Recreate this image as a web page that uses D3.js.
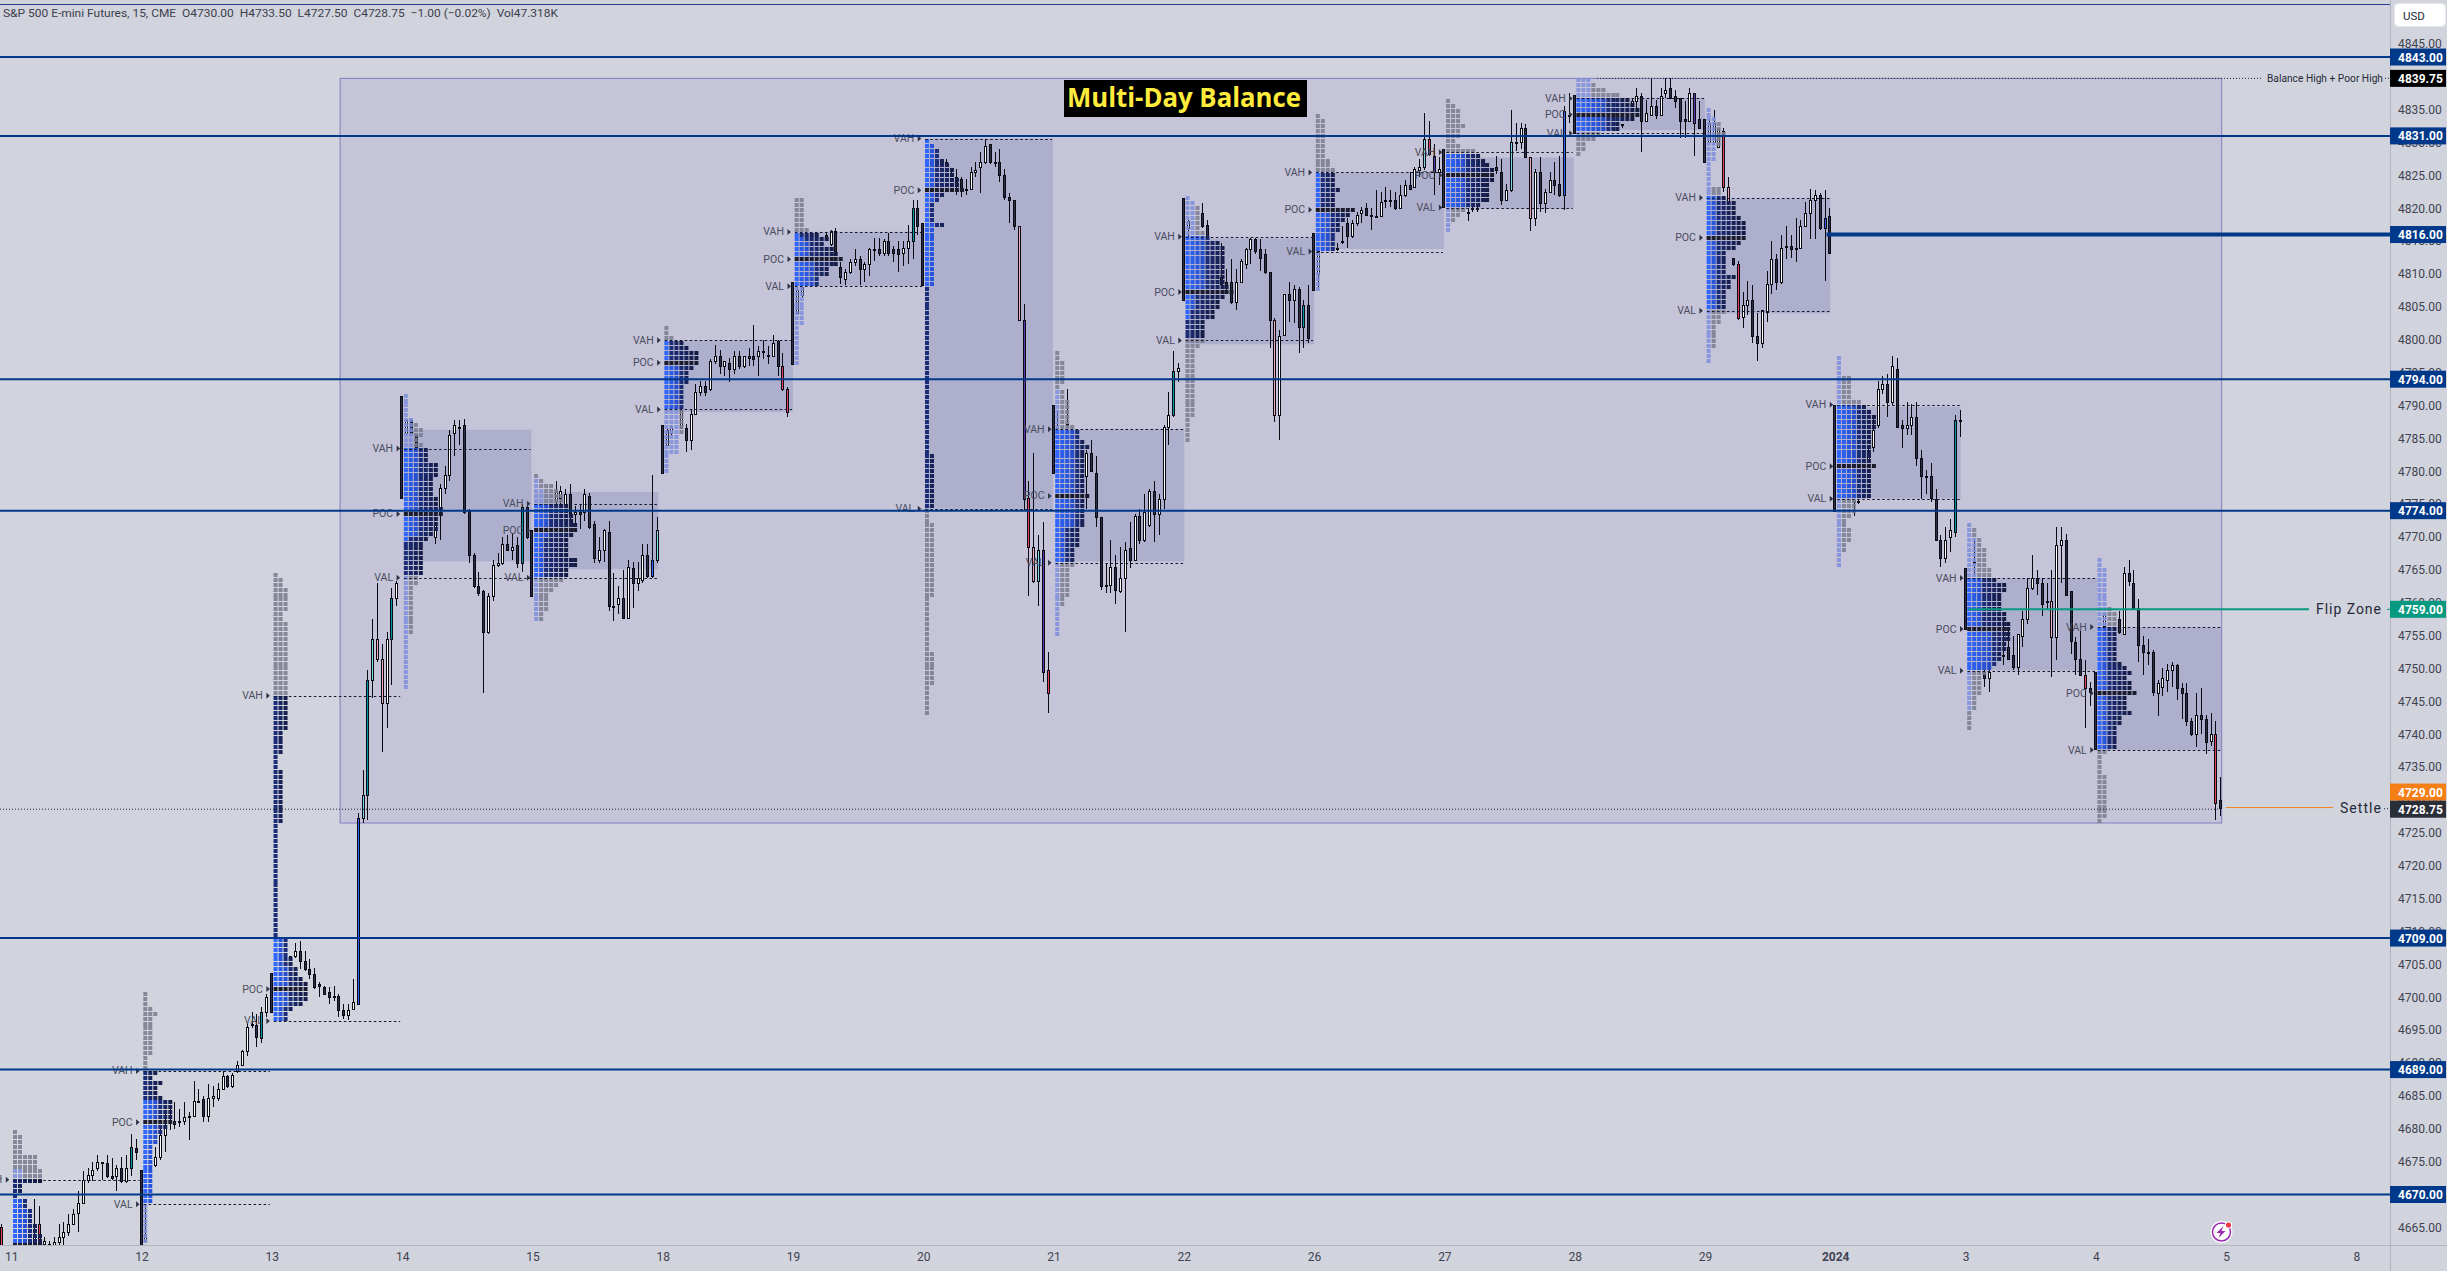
<!DOCTYPE html>
<html><head><meta charset="utf-8">
<style>html,body{margin:0;padding:0;background:#d1d4dc;overflow:hidden}svg{display:block}text{font-family:Roboto,"Liberation Sans",sans-serif}</style>
<script src="https://d3js.org/d3.v7.min.js"></script></head><body>
<svg id="c" width="2447" height="1271"></svg>
<script>
const _ = null;
const dayLabels = ["11","12","13","14","15","18","19","20","21","22","26","27","28","29","2024","3","4","5","8"];
const yTicks = [4665,4670,4675,4680,4685,4690,4695,4700,4705,4710,4715,4720,4725,4730,4735,4740,4745,4750,4755,4760,4765,4770,4775,4780,4785,4790,4795,4800,4805,4810,4815,4820,4825,4830,4835,4840,4845];
const navyLevels = [4843,4831,4794,4774,4709,4689,4670];
const heavyLevel = 4816, flipLevel = 4759, settleLevel = 4729, lastClose = 4728.75, balanceHigh = 4839.75, balanceLow = 4726.5;

// each bar: open, high, low, close
const barsPrev = [[4665,4665.5,4661,4662]];
const bars11 = [_,_,_,_,_,[4663,4669.25,4661,4664],[4665.5,4668.25,4662,4662.5],[4662.5,4663.5,4661,4663],[4662.5,4663,4662,4662],[4662.25,4663.5,4662,4662.75],[4662.75,4665.5,4662,4663.5],[4663.5,4665.75,4662,4664.25],[4664.25,4667,4663.75,4665.5],[4665.5,4667.75,4665.5,4667],[4667.25,4670.5,4664.25,4668.75],[4668.75,4673.5,4668.5,4672.25],[4672.25,4674,4671.75,4673],[4673,4675,4672,4673.75],[4674,4676,4673.5,4675],[4675,4675,4672.25,4674.75],[4674.75,4676,4672.5,4672.75],[4672.75,4675.5,4672.25,4672.5],[4672.75,4674.5,4670.5,4674],[4674,4675.75,4671.75,4672],[4672,4676,4671.75,4674],[4674,4679.25,4672.75,4677.25],[4677,4678.5,4675.25,4676.5]];
const bars12 = [[4673.75,4673.75,4660,4660],[4663,4668.5,4662.75,4664],[4674,4674.5,4674,4674.5],[4674.5,4677.25,4674.25,4675.75],[4675.75,4680.25,4675.25,4679],[4679,4682.25,4676.5,4680.5],[4682,4683.5,4679.75,4681.75],[4681.25,4684,4680,4680.75],[4681,4683,4680.25,4681.25],[4681.25,4684,4680.5,4681.75],[4681.75,4682.5,4678.25,4682],[4682,4687.25,4681.75,4684.25],[4684.25,4686,4684,4684.25],[4684.5,4685,4681,4682],[4682,4686.75,4681,4684.75],[4684.75,4686.5,4683.25,4685],[4684.75,4687,4684.25,4686],[4686,4688.75,4686,4688],[4688,4688.25,4686.25,4686.5],[4686.5,4688.5,4686.25,4688.25],[4688.75,4690.25,4688.5,4689.75],[4689.75,4692,4689.5,4691.75],[4691.75,4696,4691,4695.5],[4695.75,4697.75,4695.25,4696],[4695.75,4697.5,4692.5,4694],[4693.75,4698.5,4693,4697.75],[4697.75,4700.5,4697,4700]];
const bars13 = [[4703.75,4703.75,4697.75,4697.75],_,_,_,[4706.25,4706.25,4706,4706.25],[4706.25,4708.25,4706,4707],[4707,4708.5,4704.25,4705.5],[4705.5,4707,4704,4704.25],[4704.25,4705.75,4702.75,4703.5],[4703.5,4704.5,4701.25,4701.5],[4702,4702.25,4700,4701.75],[4701.5,4701.75,4700.5,4700.5],[4700.75,4701.5,4699,4700],[4700.25,4701.75,4699.5,4700.25],[4700.25,4700.5,4697,4698],[4698,4699,4696.75,4697.25],[4697.25,4699,4696.5,4698],[4698.25,4702.75,4698.25,4699.25],[4699,4728,4698.75,4727.25],[4727.25,4734.5,4726.5,4730.75],[4730.75,4749.75,4727,4748.25],[4748.25,4757.5,4745.5,4754.5],[4754.5,4763,4751,4751.5],[4751.5,4753.75,4737.25,4744.75],[4744.75,4755.5,4741,4754.5],[4754.5,4762.25,4747.5,4760.75],[4760.75,4763.25,4759.5,4763]];
const bars14 = [[4791.5,4791.5,4776,4776],[4785.75,4788,4785.5,4787.75],[4787.75,4788,4785.5,4785.75],[4785.5,4785.5,4783.5,4783.5],_,_,_,[4770,4772,4769,4772],[4774.25,4778,4769.5,4777.5],[4777.5,4780.75,4776.5,4779.5],[4779.5,4786.25,4778.5,4785.5],[4785.75,4787.75,4782.25,4787],[4786.75,4787.75,4784,4786.5],[4787,4788,4773.5,4773.75],[4774,4774.25,4766,4767.25],[4767.25,4767.5,4762.25,4762.5],[4762.5,4764.75,4761,4761.5],[4761.75,4762,4746.25,4755.5],[4755.5,4761.5,4755.25,4761],[4761,4766.5,4760.25,4765.75],[4765.75,4767.5,4765.5,4766],[4766,4770,4765.75,4769],[4769,4770.25,4768,4768],[4768,4770.5,4766.5,4768.5],[4768.75,4770,4765.25,4766],[4766,4775,4764.75,4774.5],[4774.5,4775,4769.75,4770]];
const bars15 = [[4771,4771,4761,4761],_,_,_,_,[4775.5,4778.5,4775,4777],[4776,4777.75,4775,4777],[4775,4777.25,4774.75,4776.5],[4776.5,4778,4772,4773.5],[4773.5,4774.75,4771.5,4773.75],[4773.75,4775,4771.25,4773.5],[4773.75,4777.25,4772.5,4776.5],[4776.25,4776.75,4771.25,4771.5],[4772,4772.5,4766,4766.75],[4766.5,4770,4766,4768],[4768,4771.25,4766.25,4771],[4770.75,4772.5,4758.75,4759.5],[4759.5,4764.5,4757.25,4759.5],[4759.75,4762.5,4758.25,4760.75],[4760.75,4765,4757.75,4757.75],[4757.75,4766.5,4757.75,4765.5],[4765.25,4766.25,4759.25,4763],[4763,4766.25,4761.75,4763.75],[4763.5,4769,4763,4767.25],[4767.25,4769,4763.75,4764],[4764,4779.5,4763.75,4766.5],[4766.5,4773,4766,4771]];
const bars18 = [[4787,4787,4779.75,4779.75],[4784,4786.5,4784,4786.25],[4785.75,4787,4785.5,4786.75],_,[4786.5,4789.25,4786.5,4789.25],[4786.5,4787.25,4783,4784.75],[4784.75,4789.25,4783.25,4788.75],[4788.75,4793.25,4788.75,4792],[4792,4793.75,4791.5,4793],[4793,4793.75,4791.5,4792],[4792.5,4797,4792.25,4796.75],[4796.75,4799.25,4796.25,4797.5],[4797.5,4798.5,4794.75,4796],[4796,4796.75,4794.5,4796.75],[4796.5,4797.25,4793.5,4795.5],[4795.5,4798.25,4794.75,4797.5],[4797.5,4798.25,4795.5,4796],[4796,4797.5,4795.75,4797.5],[4797.5,4798.75,4796,4797.25],[4797.5,4802.25,4796,4797],[4797.5,4799,4794.5,4798.25],[4798.25,4800,4797,4798.25],[4797.75,4799,4796.25,4797.5],[4797.5,4800.75,4797.5,4799.5],[4799.75,4800,4794.5,4796],[4796,4798,4792.25,4792.5],[4792.5,4792.75,4788.25,4789]];
const bars19 = [[4808.75,4808.75,4796.25,4796.25],[4804,4808,4804,4807.5],[4806.75,4808,4806.5,4808],_,_,_,_,[4815.75,4816.25,4815.75,4816],[4814.5,4816.75,4814.25,4816.5],[4816.5,4817,4813.5,4813.5],[4811,4811.75,4808.5,4809.5],[4809.25,4810.75,4808.25,4810.25],[4810.25,4812.25,4810,4811.75],[4811.75,4813.75,4811.25,4812.25],[4812.25,4812.75,4808.25,4810.75],[4810.75,4811.75,4808.75,4811.5],[4811.5,4814,4809.75,4813.75],[4813.75,4815.5,4812,4813.75],[4813.75,4815.5,4812.75,4813.25],[4813.25,4815.25,4812.75,4815],[4815,4816.25,4812.75,4813.25],[4813.75,4814.25,4811.75,4813.25],[4813.75,4815,4810.25,4813],[4813.25,4815,4811.25,4814],[4814,4817.5,4811.5,4815],[4815,4821.25,4812.25,4820],[4820,4821.25,4816,4817.25]];
const bars20 = [[4817.75,4817.75,4808.25,4808.25],_,_,_,_,[4827,4827.5,4826.75,4827],[4825,4825.75,4824.75,4825],[4824.75,4826,4822,4823.5],[4824.5,4824.75,4821.75,4822.75],[4822.75,4824.5,4822,4823],[4823,4826.25,4823,4825.5],[4825.5,4827,4824.75,4825.75],[4826.25,4828.5,4822.25,4827],[4827,4830.5,4826.75,4829.5],[4829.75,4829.75,4826.75,4827],[4827,4828.5,4826.25,4827],[4827,4829,4824,4825],[4825,4826,4821.25,4821.75],[4821.75,4822.25,4817.75,4821.25],[4821.25,4821.25,4816.75,4817.25],[4817.25,4817.25,4803,4803],[4803,4805.5,4774,4775.75],[4776,4778.5,4761,4768.5],[4768.5,4782.75,4763,4763.25],[4763.25,4770.25,4759.5,4768],[4768,4772.25,4748,4749.5],[4749.75,4752.5,4743.25,4746.25]];
const bars21 = [[4790,4790,4779.75,4779.75],[4786.5,4789.25,4786.5,4787],_,[4787,4792.5,4786.75,4787.25],_,_,[4779.25,4779.5,4779,4779.25],[4779.25,4783.25,4774.25,4782.75],[4782.75,4784.75,4780,4780],[4779.75,4782.25,4771.5,4773],[4773,4773,4762,4762.5],[4762.75,4766,4761.5,4762.5],[4762.75,4769.5,4761.5,4765.5],[4765.5,4767.25,4759.75,4762],[4761.75,4768.5,4761.5,4763.75],[4763.75,4769.25,4755.5,4768],[4768.25,4772.25,4765.25,4766.5],[4766.5,4773.5,4766.5,4773.25],[4773.25,4774.25,4769,4769.5],[4769.5,4776.5,4769.25,4773.75],[4771.75,4777.25,4771.5,4777],[4777,4778.5,4769.25,4773.5],[4773.5,4776.5,4770.25,4775.75],[4775.75,4787,4774.25,4786.75],[4786.75,4792,4784,4788.5],[4788.5,4798.25,4788.25,4795.25],[4795.25,4796.5,4793.5,4795.75]];
const bars22 = [[4821.5,4821.5,4806,4806],[4817,4818.25,4815.5,4818],_,_,[4819.25,4820.75,4817,4817.25],[4817.5,4818.25,4815.5,4815.75],_,_,[4809.5,4814.75,4808.25,4808.5],[4808.75,4810.75,4807,4808.25],[4808.75,4812.25,4805.5,4805.75],[4805.75,4810.75,4804.5,4808.75],[4808.75,4812.25,4808.75,4812],[4811.5,4814,4810.75,4813.75],[4813.75,4815.5,4811.5,4815.25],[4815.25,4815.5,4813,4813.5],[4813.75,4815.25,4810.5,4812.5],[4813,4813.75,4810,4810.25],[4810.25,4810.25,4798.75,4803],[4803,4803.25,4787.5,4788.5],[4788.5,4801.5,4784.75,4800.5],[4800.75,4807,4800.75,4807],[4807,4808.75,4802.75,4806],[4806,4808.25,4802.5,4807.75],[4807.75,4808,4798,4802],[4802,4806,4798.75,4805.25],[4805.25,4808.25,4799.5,4800.25]];
const bars26 = [[4816.25,4816.25,4807.5,4807.5],[4810,4813.5,4808,4813.5],_,_,_,[4814,4814.75,4813.5,4813.75],[4815,4817.25,4814.5,4815],[4817.75,4818.5,4814,4815.75],[4815.75,4818.25,4815.5,4817.75],[4817.75,4819.5,4817.25,4819],[4819.25,4820.25,4817.75,4819.75],[4820,4820.75,4818.75,4819],[4819,4820,4816.75,4819],[4818.75,4822.75,4818.5,4818.75],[4818.75,4822.5,4818.75,4821],[4821.25,4823.25,4820,4821.25],[4821.25,4822.75,4820.25,4821.25],[4821.25,4822.5,4819.75,4820],[4820,4823.5,4820,4822],[4822,4824.25,4821.75,4823.5],[4823.5,4825.5,4823,4823],[4823.25,4826.25,4823.25,4826],[4825.75,4827.5,4824.75,4826.25],[4826.25,4834.5,4825.75,4830.5],[4830.5,4833.25,4828,4828.25],[4828,4829.75,4822,4825.5],[4825.5,4827.75,4823.5,4826]];
const bars27 = [[4829,4829,4820.25,4820.25],_,_,_,_,[4819.5,4820,4818,4819.5],[4820,4820.25,4819.5,4820],[4820,4820.25,4819.5,4820],_,_,_,[4826.25,4828,4825.25,4825.75],[4825.5,4827.5,4820.5,4821.25],[4821.25,4823.75,4821.25,4822.75],[4822.75,4835,4822.5,4830],[4830,4833,4828.75,4830],[4830,4833,4829,4832.25],[4832.25,4832.75,4827.75,4827.75],[4827.75,4827.75,4816.5,4818.5],[4818.5,4826,4817.25,4825.5],[4825.5,4827.75,4819.5,4820.75],[4820.75,4823,4819.25,4822.5],[4822.5,4825.5,4822.25,4824.25],[4824.25,4827,4822,4823.5],[4823.75,4828,4821.75,4822],[4822,4835.5,4819.75,4834.75],[4834.25,4837.5,4833,4834.25]];
const bars28 = [[4837.25,4837.25,4831.5,4831.5],_,_,_,_,_,_,_,_,_,[4832.75,4832.75,4832.25,4832.75],_,[4836,4836.75,4836,4836.25],[4836.25,4838.25,4835.25,4837],[4837,4837.5,4828.5,4833.25],[4833.25,4836.5,4833.25,4834.5],[4834.25,4839.75,4834.25,4835.5],[4835.5,4836.5,4833.5,4834.25],[4834.25,4838.25,4834.25,4837],[4837.5,4839.75,4836.75,4838],[4838.25,4839.75,4836.75,4836.75],[4837,4838,4835.25,4836.25],[4836.75,4836.75,4830.75,4833.25],[4833.5,4836.25,4830.75,4833.25],[4833.25,4838.25,4833.25,4837.5],[4837.5,4837.5,4828,4833],[4833.5,4836.25,4832,4832.25]];
const bars29 = [[4833.5,4833.5,4827,4827],[4830,4833.5,4830,4833],[4830,4835,4830,4833],[4829.25,4832.25,4829.25,4832],[4831.75,4832.25,4822.5,4823.25],[4823.25,4824.75,4821,4821],[4812.5,4812.5,4811.25,4811.5],[4811.5,4812,4803,4803.25],[4803.5,4807.25,4801.75,4805.25],[4805.25,4809,4803.75,4806],[4806,4808.25,4799.5,4800.5],[4800.5,4804,4796.75,4799.5],[4799.5,4804.5,4798.75,4804.5],[4804.25,4810.5,4802.75,4808.5],[4808.5,4815,4807,4812.25],[4812.25,4813,4807.5,4808.75],[4808.75,4816,4808.5,4814],[4814.25,4817.25,4812.25,4814.25],[4814.25,4816,4812.5,4813.75],[4813.75,4818.5,4811.75,4814],[4814,4818.25,4814,4817.25],[4817.25,4821,4817.25,4819.25],[4819.25,4823,4815.25,4821.25],[4821.25,4822.75,4815.25,4822],[4822,4822.25,4816.75,4817],[4817,4822.75,4809,4818.5],[4818.75,4820,4813,4813.25]];
const bars02 = [[4790,4790,4774,4774],_,_,_,[4775.5,4775.5,4773.25,4775.25],[4775.5,4775.75,4775,4775.5],_,[4781.75,4784,4781.75,4782.5],[4783.75,4788,4783,4786.25],[4787,4793.75,4786.5,4792.5],[4792.5,4794.5,4791.75,4793.25],[4793.25,4794.75,4788.25,4790.5],[4790.5,4797.5,4790,4796],[4795.5,4797.25,4786.5,4786.75],[4787,4787.75,4783.5,4786.5],[4786.5,4790.5,4785.5,4787],[4787,4790.25,4785.5,4788.25],[4788.25,4790.5,4780.75,4782],[4782,4783.25,4775.75,4779.25],[4779.25,4780.25,4776.5,4779.25],[4779.25,4781.25,4775.25,4776],[4775.75,4777.25,4769.5,4769.5],[4769.5,4770.25,4765.5,4766.75],[4766.75,4771.5,4766,4769.5],[4770,4772.75,4767.75,4771],[4770.75,4788.5,4770,4787.75],[4787.75,4789.25,4785.25,4787.75]];
const bars03 = [[4765.25,4765.25,4756,4756],_,[4766,4769.5,4764,4766.25],_,[4749.5,4749.75,4747.25,4748.5],[4748.5,4750.25,4746.5,4749.5],_,_,[4752,4757.75,4750.5,4752],[4753.25,4756,4751.25,4751.5],[4752,4755,4749.75,4750.25],[4750.25,4755.25,4749,4755.25],[4755,4758.75,4753.25,4757.5],[4757.5,4763.75,4756.75,4762.25],[4762.25,4767.25,4762,4763.75],[4763.75,4765,4761.25,4763],[4763,4763.75,4758,4759.75],[4760.25,4763,4759,4760.25],[4760.25,4765,4748.75,4754.75],[4754.75,4771.5,4751.25,4768.75],[4768.75,4771.5,4763,4769.5],[4769.5,4770.5,4761,4761.25],[4761.75,4761.75,4752.25,4754.25],[4754,4754.75,4749,4751.5],[4751.5,4755.75,4749,4749],[4749,4751.25,4741,4747],[4747,4748,4744.25,4746.5]];
const bars04 = [[4749.5,4749.5,4737.75,4737.75],_,[4756.5,4758.25,4756.25,4758.25],_,_,[4757.5,4758.75,4755.25,4755.5],[4755.25,4765.5,4755.25,4764.5],[4764.5,4766.5,4762.5,4763.25],[4763,4765,4759,4759.25],[4759.25,4760.5,4751,4753.5],[4753.5,4755,4749,4752.5],[4752.5,4754.5,4750.5,4752.5],[4752.5,4752.75,4745.75,4746.5],[4746.25,4748.25,4742.75,4747.75],[4747.25,4750,4745.75,4748.5],[4748.25,4750.75,4746.5,4749.75],[4749.75,4751,4747.25,4750.5],[4750.5,4750.75,4745.25,4747],[4747,4747.75,4742.25,4746.25],[4746.25,4747.75,4741.25,4742],[4742,4742.5,4739.75,4740],[4740,4746.25,4738,4743],[4743,4747,4740,4742.25],[4742.25,4743,4737,4738.75],[4739,4743.25,4738.25,4740],[4740,4742,4727,4729.5],[4730,4733.5,4727.5,4728.75]];
const barSets = [barsPrev,bars11,bars12,bars13,bars14,bars15,bars18,bars19,bars20,bars21,bars22,bars26,bars27,bars28,bars29,bars02,bars03,bars04];
// tinted bars: session index (0 = "11"), bar number, tint name
const tinted = [[-1,0,"pink"],[0,6,"pink"],[0,25,"teal"],[1,25,"teal"],[2,18,"blue"],[2,19,"cyan"],[2,20,"teal"],[2,21,"cyan"],[2,22,"rose"],[2,23,"rose"],[2,25,"teal"],[3,25,"teal"],[4,25,"blue"],[4,26,"cyan"],[5,25,"pink"],[5,26,"pink"],[6,25,"teal"],[7,20,"rose"],[7,21,"purple"],[7,22,"pink"],[7,23,"rose"],[7,24,"cyan"],[7,25,"purple"],[7,26,"pink"],[8,25,"teal"],[9,19,"rose"],[9,25,"teal"],[10,23,"cyan"],[10,24,"pink"],[10,25,"purple"],[11,14,"cyan"],[11,18,"rose"],[11,25,"blue"],[12,25,"purple"],[13,4,"pink"],[13,5,"rose"],[13,7,"pink"],[13,25,"blue"],[14,25,"teal"],[15,18,"rose"],[15,25,"pink"],[16,25,"pink"]];
const tintColor = {pink:"#e8405f",rose:"#eeaabc",cyan:"#7fd8e6",teal:"#0097a7",blue:"#2962ff",purple:"#5e35b1"};

// TPO profile rows from the top price down: [row count, width in cells, early cells]
const tpoTops = [4679.5,4700.5,4764.25,4791.5,4779.25,4801.75,4821.25,4830.25,4798,4821.5,4834,4836.25,4839.5,4835,4797.25,4771.75,4766.5];
const vahPrices = [4672.25,4688.8,4745.85,4783.44,4775.07,4799.93,4816.4,4830.6,4786.4,4815.65,4825.45,4828.5,4836.7,4821.6,4790.13,4763.75,4756.3];
const pocPrices = [4662.25,4681,4701.25,4773.5,4771,4796.5,4812.25,4822.75,4776.25,4807.25,4819.75,4825,4834.25,4815.5,4780.75,4756,4746.25];
const valPrices = [null,4668.5,4696.4,4763.8,4763.8,4789.4,4808.15,4774.3,4766.1,4799.9,4813.4,4820.1,4831.4,4804.4,4775.8,4749.65,4737.6];
const tpo11 = [[1,1,0],[4,2,0],[3,5,0],[2,6,2],[1,6,0],[2,2,0],[1,1,0],[2,3,2],[3,4,3],[2,5,3],[3,6,3]];
const tpo12 = [[3,1,0],[1,2,0],[1,3,0],[8,2,0],[3,1,0],[1,3,0],[1,2,0],[1,4,0],[2,3,0],[1,4,0],[4,6,3],[1,6,3],[1,5,3],[1,4,3],[2,3,3],[12,2,2],[8,1,1]];
const tpo13 = [[1,1,0],[2,2,0],[5,3,0],[2,2,0],[15,3,0],[7,3,0],[5,2,0],[3,1,0],[11,2,0],[23,1,0],[4,3,2],[2,4,2],[2,5,3],[1,6,3],[2,7,3],[2,7,3],[1,6,3],[1,4,2],[2,3,2]];
const tpo14 = [[5,1,1],[1,2,2],[1,3,2],[2,4,2],[1,3,2],[1,4,2],[3,5,3],[3,7,3],[4,6,3],[2,7,3],[2,8,3],[3,7,3],[1,6,3],[1,5,1],[7,4,0],[2,3,1],[10,2,1],[11,1,1]];
const tpo15 = [[1,1,0],[1,2,1],[1,4,1],[1,5,2],[2,6,2],[2,7,3],[2,8,3],[2,9,3],[1,8,3],[4,7,2],[2,9,2],[2,7,2],[1,6,1],[1,5,1],[1,4,1],[4,3,1],[2,2,1]];
const tpo18 = [[2,1,0],[1,2,0],[1,4,1],[1,5,1],[3,7,1],[1,6,3],[3,5,3],[5,4,3],[5,4,3],[4,3,3],[4,1,1]];
const tpo19 = [[6,2,0],[1,3,0],[1,5,1],[1,7,2],[1,6,3],[1,8,3],[1,9,3],[1,10,3],[1,9,4],[2,7,4],[2,5,4],[8,2,2],[8,1,1]];
const tpo20 = [[1,1,2],[1,2,2],[2,3,2],[1,4,2],[1,5,2],[2,6,2],[2,7,2],[1,8,2],[1,4,2],[1,3,2],[4,2,1],[1,4,2],[12,2,2],[34,1,0],[11,2,0],[3,1,0],[15,2,0],[11,1,0],[7,2,0],[6,1,0]];
const tpo21 = [[2,1,0],[5,2,0],[1,1,0],[2,2,1],[5,3,1],[1,4,1],[2,5,4],[1,6,4],[1,7,4],[9,6,4],[1,7,4],[6,6,4],[4,5,2],[3,4,2],[1,4,1],[6,3,1],[2,2,1],[6,1,1]];
const tpo22 = [[1,1,2],[1,2,2],[5,3,2],[1,4,2],[1,5,4],[1,7,4],[8,8,4],[1,9,4],[1,10,4],[1,8,2],[2,7,2],[2,6,1],[4,4,0],[1,4,0],[1,3,0],[14,2,0],[5,1,0]];
const tpo26 = [[1,1,0],[8,2,0],[2,3,0],[1,4,0],[3,4,1],[1,5,1],[3,4,1],[1,8,1],[1,7,3],[1,6,3],[2,5,3],[4,4,3],[8,1,1]];
const tpo27 = [[1,1,0],[1,2,0],[3,3,0],[1,4,0],[2,3,0],[1,2,0],[1,3,0],[1,6,0],[1,7,4],[1,8,4],[1,9,4],[3,10,4],[4,9,4],[1,7,4],[1,4,1],[1,3,1],[1,2,1],[2,1,1]];
const tpo28 = [[1,3,3],[1,4,3],[1,6,3],[1,9,3],[1,11,6],[1,12,6],[2,13,6],[1,12,6],[2,9,6],[1,5,1],[1,4,0],[2,2,0],[1,1,0]];
const tpo29 = [[2,1,1],[1,2,2],[2,3,2],[1,4,2],[2,3,2],[3,2,2],[5,1,1],[2,3,1],[1,4,2],[3,6,2],[1,7,2],[3,8,2],[1,8,2],[1,7,2],[1,6,2],[5,4,2],[1,6,2],[2,5,2],[4,4,2],[1,4,1],[2,3,1],[5,2,1],[3,1,1]];
const tpo02 = [[4,1,1],[5,3,1],[1,5,1],[1,6,4],[1,7,4],[3,8,4],[7,7,4],[1,8,4],[6,7,4],[3,4,1],[1,3,1],[2,2,1],[3,3,1],[2,2,1],[3,1,1]];
const tpo03 = [[1,1,1],[2,2,1],[2,3,2],[4,4,2],[2,5,2],[1,6,3],[2,8,3],[4,7,3],[2,8,3],[2,9,3],[2,9,5],[2,8,5],[2,7,5],[1,6,5],[1,5,5],[1,4,1],[1,3,1],[3,3,1],[3,2,1],[4,1,0]];
const tpo04 = [[2,1,2],[8,2,2],[1,3,2],[3,4,2],[7,4,2],[1,5,2],[1,6,2],[1,7,2],[1,6,2],[2,7,2],[1,8,2],[3,6,2],[1,7,2],[2,5,2],[5,4,2],[1,2,0],[4,1,0],[9,2,0],[1,1,0]];
const tpoRows = [tpo11,tpo12,tpo13,tpo14,tpo15,tpo18,tpo19,tpo20,tpo21,tpo22,tpo26,tpo27,tpo28,tpo29,tpo02,tpo03,tpo04];
// shaded session boxes: session index, high, low, bar where the box ends
const boxSessions = [3,4,5,6,7,8,9,10,11,12,13,14,15,16];
const boxHighs = [4786.3,4776.85,4799.9,4816.4,4830.6,4786.4,4815.4,4825.45,4827.7,4836.8,4821.5,4789.8,4763.75,4756.3];
const boxLows = [4766.3,4765.1,4789,4808.15,4774.3,4766.3,4799.3,4813.8,4819.9,4831.9,4804,4775.85,4749.7,4737.6];
const boxEndBars = [27,26.3,27.2,27.2,27.1,27.3,27.2,27.1,27,27.2,26.2,26.2,27.5,26.2];

const W=2447,H=1271,axisX=2390,axisY=1245;
const svg=d3.select("#c");
const x=d3.scaleLinear().domain([0,18]).range([10.3,10.3+18*130.28]);
const barX=(d,i)=>x(d+i/27);
const y=d3.scaleLinear().domain([4670,4843]).range([1194.5,57]);
const defs=svg.append("defs");
defs.append("clipPath").attr("id","plot").append("rect").attr("width",axisX).attr("height",axisY);
svg.append("rect").attr("width",W).attr("height",H).attr("fill","#d1d4dc");
const plot=svg.append("g").attr("clip-path","url(#plot)");

// balance box
const leftBalance=barX(2,14.25), rightBalance=barX(16,26.2);
plot.append("rect").attr("x",leftBalance+.5).attr("y",y(balanceHigh)).attr("width",rightBalance-leftBalance).attr("height",y(balanceLow)-y(balanceHigh)).attr("fill","rgba(103,58,183,.1)").attr("stroke","#857cc0").attr("stroke-width",1);

// session boxes
plot.selectAll(".vb").data(boxSessions).join("rect").attr("class","vb")
 .attr("x",d=>x(d)+3).attr("y",(d,i)=>y(boxHighs[i])).attr("width",(d,i)=>barX(d,boxEndBars[i])-x(d)-3)
 .attr("height",(d,i)=>y(boxLows[i])-y(boxHighs[i])).attr("fill","#2a3f8f").attr("fill-opacity",.15);

// candles
const allBars=[];
barSets.forEach((set,s)=>{const day=s-1;set.forEach((b,i)=>{ if(!b)return;
  const idx=(day===-1)?25:i; const t=tinted.find(k=>k[0]===day&&k[1]===(day===-1?0:i));
  allBars.push({day,i:idx,o:b[0],h:b[1],l:b[2],c:b[3],tint:t?tintColor[t[2]]:null});});});
const cg=plot.append("g");
cg.selectAll(".w").data(allBars).join("rect").attr("class","w")
 .attr("x",d=>Math.round(barX(d.day,d.i))).attr("width",1)
 .attr("y",d=>Math.round(y(d.h))).attr("height",d=>Math.max(1,Math.round(y(d.l))-Math.round(y(d.h)))).attr("fill","#0a0b12");
cg.selectAll(".b").data(allBars).join("rect").attr("class","b")
 .attr("x",d=>Math.round(barX(d.day,d.i))-.5).attr("width",2)
 .attr("y",d=>Math.round(y(Math.max(d.o,d.c)))+.5).attr("height",d=>Math.max(1,Math.round(y(Math.min(d.o,d.c)))-Math.round(y(Math.max(d.o,d.c)))))
 .attr("fill",d=>d.tint||(d.c>=d.o?"#ffffff":"#2a2e48")).attr("stroke","#0a0b12").attr("stroke-width",1);

// TPO cells
const cells=[];
tpoRows.forEach((rows,s)=>{let k=0;rows.forEach(r=>{for(let n=0;n<r[0];n++,k++){
   const p=tpoTops[s]-k*.75, inVA=p<=vahPrices[s]&&(valPrices[s]===null||p>=valPrices[s]), poc=Math.abs(p-pocPrices[s])<.2;
   for(let c=0;c<r[1];c++) cells.push({s,p,c,w:r[1],b:r[2],inVA,poc});}});});
const brightScale=d3.interpolateRgb("#2f66ff","#2144bb"), darkScale=d3.interpolateRgb("#1b2c78","#131838");
function cellColor(d){
  if(d.poc) return "#1a1c2e";
  if(d.inVA) return d.c<d.b? brightScale(d.c/Math.max(d.b,1)) : darkScale((d.c-d.b)/Math.max(d.w-d.b,1));
  return d.c<d.b? "#7f90dc":"#7b7d91";
}
plot.append("g").selectAll("rect").data(cells).join("rect")
 .attr("x",d=>x(d.s)+2.7+Math.round(d.c*4.93)).attr("y",d=>Math.round(y(d.p))-2).attr("width",4).attr("height",4)
 .attr("fill",cellColor).attr("fill-opacity",d=>d.inVA?1:.88);

// VAH / VAL dashed lines
const endBarFor=s=>{const i=boxSessions.indexOf(s);return i>=0?boxEndBars[i]-.2:26.8;};
const dashes=[];
vahPrices.forEach((v,s)=>dashes.push({s,v}));
valPrices.forEach((v,s)=>{if(v!==null)dashes.push({s,v});});
plot.selectAll(".dash").data(dashes).join("line").attr("class","dash")
 .attr("x1",d=>x(d.s)+3).attr("x2",d=>barX(d.s,endBarFor(d.s)))
 .attr("y1",d=>Math.round(y(d.v))+.5).attr("y2",d=>Math.round(y(d.v))+.5)
 .attr("stroke","#14162a").attr("stroke-width",1).attr("stroke-dasharray","2.5 2.5");

// VAH POC VAL tags
const tags=[];
vahPrices.forEach((v,s)=>tags.push({s,v,t:"VAH"}));
pocPrices.forEach((v,s)=>{if(s>0)tags.push({s,v,t:"POC"});});
valPrices.forEach((v,s)=>{if(v!==null)tags.push({s,v,t:"VAL"});});
const tg=plot.append("g");
tg.selectAll("text").data(tags).join("text").attr("x",d=>x(d.s)-8).attr("y",d=>y(d.v)+3.5)
 .attr("text-anchor","end").attr("font-size",10.5).attr("fill","#4a4d5e").text(d=>d.t);
tg.selectAll("path").data(tags).join("path")
 .attr("d",d=>{const a=x(d.s)-4.5,b=y(d.v);return `M${a},${b-3}L${a+3.5},${b}L${a},${b+3}Z`;}).attr("fill","#2f3242");

// levels
const lv=plot.append("g");
lv.selectAll("line").data(navyLevels).join("line").attr("x1",0).attr("x2",axisX).attr("y1",d=>y(d)).attr("y2",d=>y(d)).attr("stroke","#00398a").attr("stroke-width",2);
lv.append("line").attr("x1",barX(14,-1.6)).attr("x2",axisX).attr("y1",y(heavyLevel)).attr("y2",y(heavyLevel)).attr("stroke","#00398a").attr("stroke-width",4);
lv.append("line").attr("x1",x(15)+4).attr("x2",2309).attr("y1",y(flipLevel)).attr("y2",y(flipLevel)).attr("stroke","#089981").attr("stroke-width",2);
lv.append("line").attr("x1",2387).attr("x2",axisX).attr("y1",y(flipLevel)).attr("y2",y(flipLevel)).attr("stroke","#089981").attr("stroke-width",1);
lv.append("line").attr("x1",2226).attr("x2",2333).attr("y1",y(settleLevel)+1).attr("y2",y(settleLevel)+1).attr("stroke","#f57f17").attr("stroke-width",1);
lv.append("line").attr("x1",0).attr("x2",2222).attr("y1",y(lastClose)+1).attr("y2",y(lastClose)+1).attr("stroke","#1d1f2c").attr("stroke-dasharray","1 2");
lv.append("line").attr("x1",2384).attr("x2",axisX).attr("y1",y(lastClose)+.5).attr("y2",y(lastClose)+.5).attr("stroke","#1d1f2c").attr("stroke-dasharray","1 2");
lv.append("line").attr("x1",1597).attr("x2",2263).attr("y1",y(balanceHigh)).attr("y2",y(balanceHigh)).attr("stroke","#1d1f2c").attr("stroke-dasharray","1 2");
lv.append("line").attr("x1",2385).attr("x2",axisX).attr("y1",y(balanceHigh)).attr("y2",y(balanceHigh)).attr("stroke","#1d1f2c").attr("stroke-dasharray","1 2");

// annotations
svg.append("text").attr("x",2267).attr("y",82).attr("font-size",10).attr("fill","#26293a").attr("textLength",116).attr("lengthAdjust","spacingAndGlyphs").text("Balance High + Poor High");
svg.append("text").attr("x",2316).attr("y",614).attr("font-size",14).attr("fill","#26293a").attr("textLength",65).attr("lengthAdjust","spacing").text("Flip Zone");
svg.append("text").attr("x",2340).attr("y",813).attr("font-size",14).attr("fill","#26293a").attr("textLength",41).attr("lengthAdjust","spacing").text("Settle");
svg.append("rect").attr("x",1064).attr("y",80).attr("width",243).attr("height",37).attr("fill","#000");
svg.append("text").attr("x",1067).attr("y",107).attr("font-size",26).attr("font-weight",700).attr("fill","#ffeb3b").attr("textLength",234).attr("lengthAdjust","spacingAndGlyphs").attr("style",'font-family:"Open Sans",sans-serif').text("Multi-Day Balance");

// top border + title
svg.append("line").attr("x1",0).attr("x2",axisX).attr("y1",4.5).attr("y2",4.5).attr("stroke","#1f3f8f").attr("stroke-width",1);
svg.append("text").attr("x",3).attr("y",17).attr("font-size",11.5).attr("fill","#3b3e4c").attr("textLength",555).attr("lengthAdjust","spacingAndGlyphs").attr("xml:space","preserve")
 .text("S&P 500 E-mini Futures, 15, CME  O4730.00  H4733.50  L4727.50  C4728.75  −1.00 (−0.02%)  Vol47.318K");

// axes
const yAxis=d3.axisRight(y).tickValues(yTicks).tickSize(0).tickPadding(8).tickFormat(d3.format(".2f"));
const ya=svg.append("g").attr("transform",`translate(${axisX},0)`).call(yAxis);
ya.select(".domain").remove();
ya.selectAll("text").attr("font-size",12).attr("fill","#3f4252").attr("font-family",'Roboto,sans-serif');
const xAxis=d3.axisBottom(x).tickValues(d3.range(dayLabels.length)).tickSize(0).tickPadding(0).tickFormat(d=>dayLabels[d]);
const xa=svg.append("g").attr("transform",`translate(1,${axisY+7})`).call(xAxis);
xa.select(".domain").remove();
xa.selectAll("text").attr("font-size",12).attr("fill","#3f4252").attr("font-family",'Roboto,sans-serif').attr("font-weight",d=>dayLabels[d]==="2024"?700:400);
svg.append("line").attr("x1",0).attr("x2",W).attr("y1",axisY+.5).attr("y2",axisY+.5).attr("stroke","#b2b5be");
svg.append("line").attr("x1",axisX+.5).attr("x2",axisX+.5).attr("y1",0).attr("y2",H).attr("stroke","#b2b5be");

// price labels
const tagsRight=[[4843,0,"#00398a"],[4831,0,"#00398a"],[4816,0,"#00398a"],[4794,0,"#00398a"],[4774,0,"#00398a"],[4709,0,"#00398a"],[4689,0,"#00398a"],[4670,0,"#00398a"],[balanceHigh,0,"#000000"],[flipLevel,0,"#089981"],[settleLevel,-14.5,"#f57f17"],[lastClose,1,"#2a2e39"]];
const pl=svg.append("g").selectAll("g").data(tagsRight).join("g").attr("transform",d=>`translate(${axisX},${y(d[0])+d[1]})`);
pl.append("rect").attr("x",0).attr("y",-8.5).attr("width",56).attr("height",17).attr("fill",d=>d[2]);
pl.append("text").attr("x",8).attr("y",4.5).attr("font-size",12).attr("font-weight",700).attr("fill","#fff").text(d=>d3.format(".2f")(d[0]));

// currency button
svg.append("rect").attr("x",2394.5).attr("y",3.5).attr("width",51).attr("height",23).attr("rx",4).attr("fill","#fff").attr("stroke","#e4e6ec");
svg.append("text").attr("x",2403).attr("y",20).attr("font-size",11.5).attr("fill","#26293a").text("USD");

// bolt badge
const ic=svg.append("g").attr("transform","translate(2221.5,1232)");
ic.append("circle").attr("r",11).attr("fill","#fff");
ic.append("circle").attr("r",9).attr("fill","none").attr("stroke","#9c27b0").attr("stroke-width",1.5);
ic.append("path").attr("d","M2,-6L-5,1L-1,1L-3,6L4,-1L0,-1Z").attr("fill","#9c27b0");
ic.append("circle").attr("cx",7).attr("cy",-7).attr("r",3.6).attr("fill","#fff");
ic.append("circle").attr("cx",7).attr("cy",-7).attr("r",2.6).attr("fill","#f23645");
</script></body></html>
